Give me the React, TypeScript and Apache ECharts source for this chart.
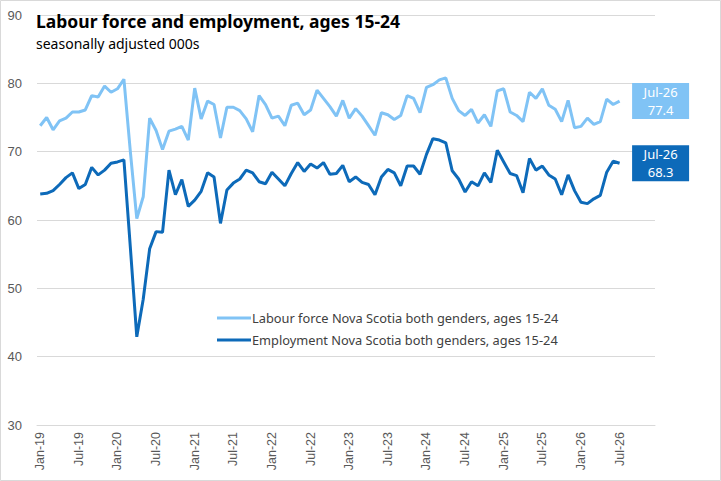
import React, { useEffect, useRef } from "react";
import * as echarts from "echarts";

const years = ["19", "20", "21", "22", "23", "24", "25", "26"];
const monthNames = ["Jan", "Feb", "Mar", "Apr", "May", "Jun", "Jul", "Aug", "Sep", "Oct", "Nov", "Dec"];
const categories: string[] = [];
years.forEach((y) => monthNames.forEach((m) => categories.push(`${m}-${y}`)));

const labourForce = [
  73.8, 75.0, 73.2, 74.5, 74.9, 75.8, 75.8, 76.1, 78.2, 78.0, 79.6, 78.7,
  79.2, 80.6, 70.0, 60.2, 63.4, 74.9, 73.1, 70.3, 73.0, 73.3, 73.7, 71.7,
  79.3, 74.8, 77.4, 76.9, 72.0, 76.5, 76.5, 76.0, 74.8, 72.9, 78.2, 76.9,
  74.9, 75.2, 73.8, 76.8, 77.1, 75.4, 76.1, 79.0, 77.8, 76.6, 75.2, 77.5,
  74.9, 76.3, 75.2, 73.8, 72.4, 75.7, 75.4, 74.7, 75.3, 78.2, 77.8, 75.7,
  79.4, 79.8, 80.5, 80.8, 77.8, 76.0, 75.3, 76.2, 74.2, 75.4, 73.7, 78.9,
  79.2, 75.8, 75.3, 74.4, 78.7, 77.8, 79.2, 76.8, 76.2, 74.4, 77.5, 73.5,
  73.7, 74.9, 74.0, 74.4, 77.7, 76.9, 77.4,
];

const employment = [
  63.8, 63.9, 64.3, 65.2, 66.2, 66.9, 64.6, 65.2, 67.7, 66.6, 67.3, 68.3,
  68.5, 68.8, 56.0, 42.9, 48.4, 55.8, 58.3, 58.2, 67.3, 63.7, 65.9, 62.0,
  62.9, 64.2, 66.9, 66.3, 59.5, 64.4, 65.4, 66.0, 67.3, 66.9, 65.6, 65.3,
  67.0, 66.0, 65.0, 66.8, 68.4, 67.1, 68.2, 67.6, 68.4, 66.7, 66.8, 68.0,
  65.6, 66.3, 65.5, 65.2, 63.7, 66.3, 67.4, 66.9, 65.0, 67.9, 67.9, 66.7,
  69.6, 71.9, 71.7, 71.3, 67.2, 66.0, 64.1, 65.6, 65.0, 66.9, 65.5, 70.2,
  68.5, 66.8, 66.5, 64.0, 69.0, 67.3, 67.9, 66.6, 66.0, 63.7, 66.6, 64.3,
  62.6, 62.4, 63.1, 63.6, 67.0, 68.6, 68.3,
];

const seriesNames = [
  "Labour force Nova Scotia both genders, ages 15-24",
  "Employment Nova Scotia both genders, ages 15-24",
];
const titleText = "Labour force and employment, ages 15-24";
const subtitleText = "seasonally adjusted 000s";

const LIGHT = "#80c3f5";
const DARK = "#0d6ab9";

export default function App() {
  const ref = useRef<HTMLDivElement>(null);
  useEffect(() => {
    document.body.style.margin = "0";
    const chart = echarts.init(ref.current!, null, { renderer: "svg" });
    const endLabel = (bg: string) => ({
      show: true,
      formatter: (p: any) => `${p.name}\n${Number(p.value).toFixed(1)}`,
      distance: 41,
      width: 57,
      align: "center",
      padding: [0, 0, 0, 0],
      lineHeight: 18,
      backgroundColor: bg,
      color: "#ffffff",
      fontSize: 13,
      fontFamily: "Noto Sans",
    });
    chart.setOption({
      animation: false,
      backgroundColor: "#ffffff",
      title: [
        {
          text: titleText,
          left: 36,
          top: 10,
          padding: 0,
          textStyle: { fontSize: 17.5, lineHeight: 21, fontWeight: "bold", color: "#000000", fontFamily: "Noto Sans" },
        },
        {
          text: subtitleText,
          left: 36,
          top: 34,
          padding: 0,
          textStyle: { fontSize: 14, lineHeight: 18, fontWeight: "normal", color: "#000000", fontFamily: "Noto Sans" },
        },
      ],
      legend: {
        orient: "vertical",
        left: 217,
        top: 310,
        padding: 0,
        itemWidth: 34,
        itemHeight: 3,
        itemGap: 6,
        textStyle: { fontSize: 12.8, color: "#404040", fontFamily: "Noto Sans", padding: [0, 0, 0, -4], lineHeight: 16 },
        data: seriesNames.map((n) => ({ name: n, icon: "rect" })),
      },
      grid: { left: 37, right: 66, top: 15, bottom: 56, containLabel: false },
      xAxis: {
        type: "category",
        data: categories,
        boundaryGap: true,
        axisLine: { show: true, lineStyle: { color: "#d9d9d9", width: 1 } },
        axisTick: { show: false },
        axisLabel: {
          interval: 5,
          rotate: 90,
          margin: 7,
          fontSize: 12.5,
          color: "#595959",
          fontFamily: "Liberation Sans",
        },
      },
      yAxis: {
        type: "value",
        min: 30,
        max: 90,
        interval: 10,
        axisLine: { show: false },
        axisTick: { show: false },
        splitLine: { lineStyle: { color: "#d9d9d9", width: 1 } },
        axisLabel: { margin: 15, fontSize: 13, color: "#595959", fontFamily: "Liberation Sans" },
      },
      series: [
        {
          name: seriesNames[0],
          type: "line",
          data: labourForce,
          symbol: "none",
          lineStyle: { color: LIGHT, width: 3 },
          itemStyle: { color: LIGHT },
          endLabel: endLabel(LIGHT),
        },
        {
          name: seriesNames[1],
          type: "line",
          data: employment,
          symbol: "none",
          lineStyle: { color: DARK, width: 3 },
          itemStyle: { color: DARK },
          endLabel: endLabel(DARK),
        },
      ],
      graphic: [
        {
          type: "rect",
          shape: { x: 0.5, y: 0.5, width: 720, height: 480 },
          style: { fill: "none", stroke: "#d9d9d9", lineWidth: 1 },
          silent: true,
        },
      ],
    });
    return () => chart.dispose();
  }, []);
  return <div ref={ref} style={{ width: 721, height: 481 }} />;
}
